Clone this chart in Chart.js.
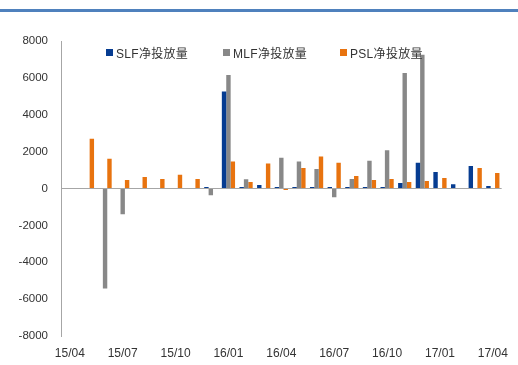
<!DOCTYPE html>
<html>
<head>
<meta charset="utf-8">
<script src="https://cdn.jsdelivr.net/npm/chart.js@4.4.1/dist/chart.umd.min.js"></script>
<style>
    body { margin: 0; background: #fff; }
    #wrap { position: relative; width: 518px; height: 365px; overflow: hidden; }
    #topbar { position: absolute; left: 0; top: 9px; width: 518px; height: 3px; background: #4f81bd; }
    #legend { position: absolute; top: 44px; left: 0; height: 16px; }
    .item { position: absolute; top: 0; display: flex; align-items: center; height: 16px; white-space: nowrap;
            font: 12px "Liberation Sans", "Noto Sans CJK SC", sans-serif; color: #333; letter-spacing: 0.3px; }
    .box { width: 7px; height: 7px; margin-right: 3px; }
</style>
</head>
<body>
<div id="wrap">
    <div id="topbar"></div>
    <canvas id="chart" width="518" height="365"></canvas>
    <div id="legend"></div>
</div>
<script>
// 月份（15/04 - 17/04）
const months = ['15/04', '15/05', '15/06', '15/07', '15/08', '15/09', '15/10', '15/11', '15/12',
    '16/01', '16/02', '16/03', '16/04', '16/05', '16/06', '16/07', '16/08', '16/09', '16/10',
    '16/11', '16/12', '17/01', '17/02', '17/03', '17/04'];

// 净投放量（亿元）
const slf = [null, null, null, null, null, null, null, null, 80,
    5260, 80, 190, 80, 80, 80, 80, 80, 80, 80,
    300, 1390, 900, 230, 1220, 140];
const mlf = [null, null, -5420, -1400, null, null, null, null, -370,
    6150, 500, null, 1670, 1460, 1060, -480, 520, 1510, 2070,
    6260, 7260, null, null, null, null];
const psl = [null, 2700, 1620, 460, 620, 520, 750, 520, null,
    1460, 350, 1350, -80, 1110, 1730, 1400, 680, 460, 520,
    350, 410, 570, null, 1110, 840];

const seriesNames = ['SLF净投放量', 'MLF净投放量', 'PSL净投放量'];
const yTicks = [-8000, -6000, -4000, -2000, 0, 2000, 4000, 6000, 8000];
const colors = ['#063c91', '#888888', '#e8730f'];

const font = { family: '"Liberation Sans", "Noto Sans CJK SC", sans-serif', size: 12 };

// 只显示 3 个月一次的刻度标签
const shownLabels = ['15/04', '15/07', '15/10', '16/01', '16/04', '16/07', '16/10', '17/01', '17/04'];

const chart = new Chart(document.getElementById('chart'), {
    type: 'bar',
    data: {
        labels: months,
        datasets: [slf, mlf, psl].map((d, i) => ({
            label: seriesNames[i],
            data: d,
            backgroundColor: colors[i],
            categoryPercentage: 0.75,
            barPercentage: 1
        }))
    },
    options: {
        responsive: false,
        animation: false,
        layout: { padding: { top: 41, right: 7, left: 0, bottom: 0 } },
        plugins: { legend: { display: false }, tooltip: { enabled: false } },
        scales: {
            x: {
                grid: { display: false, drawTicks: false },
                border: { display: false },
                ticks: {
                    autoSkip: false,
                    maxRotation: 0,
                    padding: 10,
                    color: '#333',
                    font: font,
                    callback: function (v, i) {
                        const l = months[i];
                        return shownLabels.includes(l) ? l : '';
                    }
                },
                afterFit: s => { s.height = 29; }
            },
            y: {
                min: -8000,
                max: 8000,
                afterBuildTicks: s => { s.ticks = yTicks.map(v => ({ value: v })); },
                grid: {
                    drawTicks: false,
                    color: c => c.tick && c.tick.value === 0 ? '#a6a6a6' : 'rgba(0,0,0,0)'
                },
                border: { display: true, color: '#a6a6a6' },
                ticks: {
                    padding: 13,
                    color: '#333',
                    font: { family: font.family, size: 11.5 },
                    callback: v => String(v)
                },
                afterFit: s => { s.width = 61; }
            }
        }
    }
});

// 图例（HTML 文本）
const legendX = [106, 223, 340];
const legend = document.getElementById('legend');
seriesNames.forEach((name, i) => {
    const item = document.createElement('div');
    item.className = 'item';
    item.style.left = legendX[i] + 'px';
    item.innerHTML = '<span class="box" style="background:' + colors[i] + '"></span>' + name;
    legend.appendChild(item);
});
</script>
</body>
</html>
